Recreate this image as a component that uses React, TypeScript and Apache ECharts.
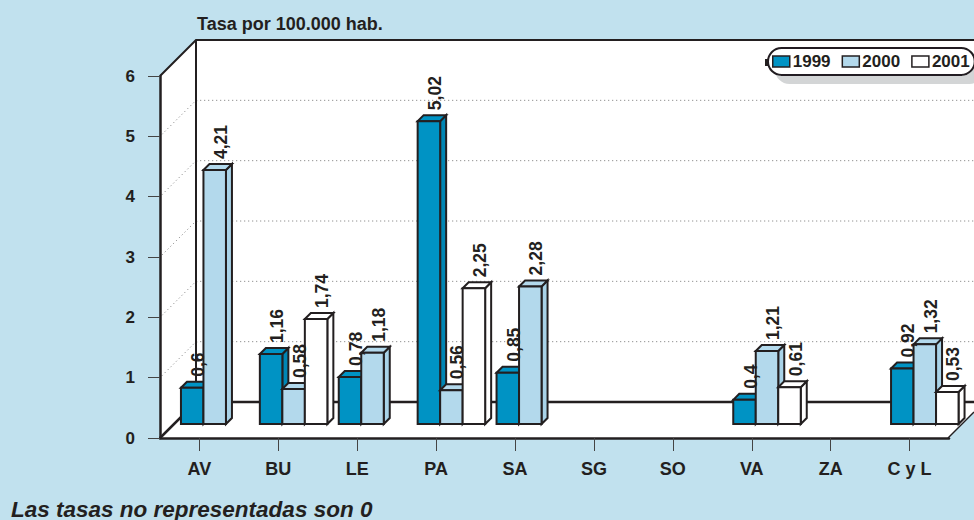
import React, { useEffect, useRef } from "react";
import * as echarts from "echarts";

const categories = ["AV", "BU", "LE", "PA", "SA", "SG", "SO", "VA", "ZA", "C y L"];
const years = ["1999", "2000", "2001"];
const values1999 = [0.6, 1.16, 0.78, 5.02, 0.85, 0, 0, 0.4, 0, 0.92];
const values2000 = [4.21, 0.58, 1.18, 0.56, 2.28, 0, 0, 1.21, 0, 1.32];
const values2001 = [0, 1.74, 0, 2.25, 0, 0, 0, 0.61, 0, 0.53];
const yTicks = [0, 1, 2, 3, 4, 5, 6];
const titleText = "Tasa por 100.000 hab.";
const footnote = "Las tasas no representadas son 0";

const FONT = '"Liberation Sans", Arial, sans-serif';
const INK = "#231f20";
const BG = "#C1E1EE";
const fills = ["#0093C4", "#B3D9EC", "#FFFFFF"];
const sides = ["#0086B4", "#A9D3E8", "#FFFFFF"];

const W = 974, H = 520;
const G = { left: 160, top: 76, width: 789, height: 362 };
const DEPTH = 36;
const BAR_W = 22.5, BAR_D = 6, BAR_LIFT = 14, BAR_START = -18.5;

const yPx = (v: number) => G.top + G.height - (v / 6) * G.height;
const backX = G.left + DEPTH;
const fmt = (v: number) => String(v).replace(".", ",");

function barSeries(i: number, vals: number[]) {
  return {
    type: "custom",
    name: years[i],
    z: 3 + i,
    itemStyle: { color: fills[i], borderColor: INK, borderWidth: 1.5 },
    encode: { x: 0, y: 1 },
    data: vals.map((v, k) => [k, v]),
    renderItem: (_p: any, api: any) => {
      const v = api.value(1);
      if (!v) return null;
      const c = api.coord([api.value(0), v]);
      const b = api.coord([api.value(0), 0]);
      const x0 = c[0] + BAR_START + i * BAR_W;
      const x1 = x0 + BAR_W;
      const top = c[1] - BAR_LIFT;
      const base = b[1] - BAR_LIFT;
      const line = { stroke: INK, lineWidth: 2, lineJoin: "miter" };
      return {
        type: "group",
        children: [
          {
            type: "polygon",
            shape: { points: [[x1, top], [x1 + BAR_D, top - BAR_D], [x1 + BAR_D, base - BAR_D], [x1, base]] },
            style: { fill: sides[i], ...line },
          },
          {
            type: "polygon",
            shape: { points: [[x0, top], [x0 + BAR_D, top - BAR_D], [x1 + BAR_D, top - BAR_D], [x1, top]] },
            style: { fill: fills[i], ...line },
          },
          {
            type: "rect",
            shape: { x: x0, y: top, width: BAR_W, height: base - top },
            style: { fill: fills[i], ...line },
          },
        ],
      };
    },
  };
}

function labelSeries(i: number, vals: number[]) {
  return {
    type: "custom",
    name: "label" + years[i],
    z: 10,
    encode: { x: 0, y: 1 },
    data: vals.map((v, k) => [k, v]),
    renderItem: (_p: any, api: any) => {
      const v = api.value(1);
      if (!v) return null;
      const c = api.coord([api.value(0), v]);
      return {
        type: "text",
        x: c[0] + BAR_START + i * BAR_W + BAR_W / 2 + BAR_D,
        y: c[1] - BAR_LIFT - BAR_D - 5,
        rotation: Math.PI / 2,
        style: {
          text: fmt(v),
          fill: INK,
          font: `bold 17.5px ${FONT}`,
          align: "left",
          verticalAlign: "middle",
        },
      };
    },
  };
}

function walls() {
  const right = W;
  const floorY = G.top + G.height;
  const backFloorY = floorY - DEPTH;
  const frontRight = G.left + G.width - 1;
  const items: any[] = [
    {
      type: "polygon",
      shape: { points: [[backX, G.top - DEPTH], [right, G.top - DEPTH], [right, backFloorY + 10], [frontRight, floorY], [G.left, floorY], [G.left, G.top]] },
      style: { fill: "#FFFFFF" },
    },
  ];
  yTicks.slice(1, -1).forEach((t) => {
    items.push({
      type: "polyline",
      shape: { points: [[G.left + 2, yPx(t) - 2], [backX - 1, yPx(t) - DEPTH + 1], [backX + 3, yPx(t) - DEPTH], [right, yPx(t) - DEPTH]] },
      style: { stroke: "#777", lineWidth: 1, lineDash: [1, 3], fill: "none" },
    });
  });
  const solid = (points: number[][], lineWidth = 2.5) => ({
    type: "polyline",
    shape: { points },
    style: { stroke: INK, lineWidth, fill: "none" },
  });
  items.push(solid([[G.left, G.top], [backX, G.top - DEPTH], [right, G.top - DEPTH]], 2));
  items.push(solid([[backX, G.top - DEPTH], [backX, backFloorY]], 2));
  items.push(solid([[G.left, floorY], [backX, backFloorY], [right, backFloorY]]));
  items.push(solid([[frontRight, floorY], [right, backFloorY + 10]], 1.5));
  items.push({ type: "rect", shape: { x: 765, y: 59, width: 4, height: 7 }, style: { fill: INK } });
  return items;
}

export default function App() {
  const ref = useRef<HTMLDivElement>(null);
  useEffect(() => {
    const chart = echarts.init(ref.current!, null, { renderer: "svg" });
    chart.setOption({
      animation: false,
      backgroundColor: BG,
      title: [
        { text: titleText, left: 197, top: 15, padding: 0, textStyle: { color: INK, fontFamily: FONT, fontWeight: "bold", fontSize: 18 } },
        { text: footnote, left: 11, top: 499, padding: 0, textStyle: { color: INK, fontFamily: FONT, fontWeight: "bold", fontStyle: "italic", fontSize: 22.5, lineHeight: 20 } },
      ],
      graphic: { elements: walls() },
      legend: {
        left: 768,
        top: 48,
        width: 230,
        orient: "horizontal",
        padding: [5, 5, 5, 4],
        itemWidth: 17,
        itemHeight: 11,
        itemGap: 11,
        backgroundColor: "#FFFFFF",
        borderColor: INK,
        borderWidth: 2,
        borderRadius: 14,
        shadowColor: "#D3D5D6",
        shadowBlur: 0,
        shadowOffsetX: 8,
        shadowOffsetY: 8,
        textStyle: { color: INK, fontFamily: FONT, fontWeight: "bold", fontSize: 17, padding: [0, 0, 0, -2] },
        data: years.map((y, i) => ({
          name: y,
          icon: "rect",
          itemStyle: { color: fills[i], borderColor: INK, borderWidth: 1.5 },
        })),
      },
      grid: { left: G.left, top: G.top, width: G.width, height: G.height, containLabel: false },
      xAxis: {
        type: "category",
        data: categories,
        axisLine: { show: true, lineStyle: { color: INK, width: 2.5 } },
        axisTick: { show: true, alignWithLabel: true, length: 13, lineStyle: { color: "#444", width: 1 } },
        axisLabel: { color: INK, fontFamily: FONT, fontWeight: "bold", fontSize: 18, margin: 22, interval: 0 },
      },
      yAxis: {
        type: "value",
        min: 0,
        max: 6,
        interval: 1,
        axisLine: { show: true, lineStyle: { color: INK, width: 2.5 } },
        axisTick: { show: true, length: 12, lineStyle: { color: "#444", width: 1 } },
        axisLabel: { color: INK, fontFamily: FONT, fontWeight: "bold", fontSize: 17, margin: 25 },
        splitLine: { show: false },
      },
      series: [
        barSeries(0, values1999),
        barSeries(1, values2000),
        barSeries(2, values2001),
        labelSeries(0, values1999),
        labelSeries(1, values2000),
        labelSeries(2, values2001),
      ],
    });
    return () => chart.dispose();
  }, []);
  return <div ref={ref} style={{ position: "fixed", left: 0, top: 0, width: W, height: H }} />;
}
